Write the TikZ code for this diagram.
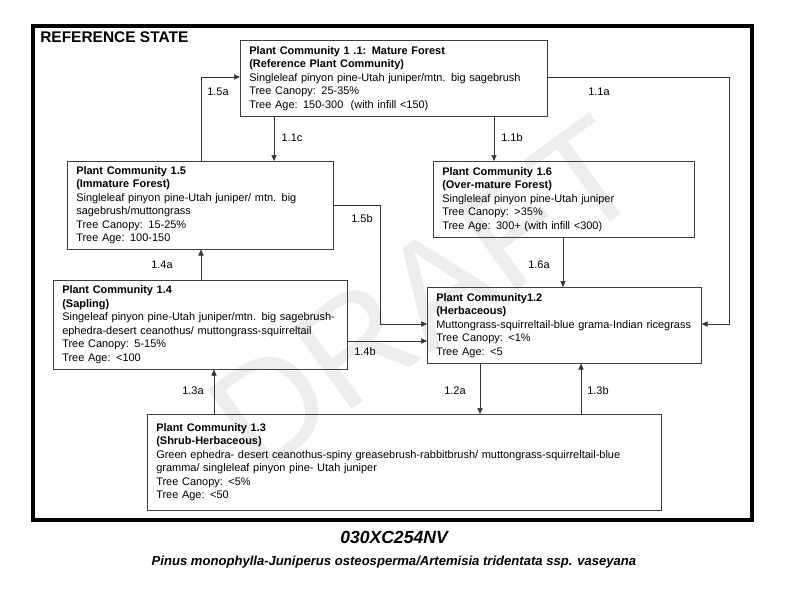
\documentclass[tikz,border=0pt]{standalone}
\usepackage{fontspec}
\setmainfont{Liberation Sans}
\usetikzlibrary{arrows.meta}

\begin{document}
\begin{tikzpicture}[x = 0.025cm, y = -0.025cm,
  pc/.style = {draw = black!75, anchor = north west, align = left,
    inner xsep = 0.225cm, inner ysep = 0pt, font = \fontsize{7.8}{9.6}\selectfont},
  tr/.style = {draw = black!80, -{Triangle[length = 1.5mm, width = 1.3mm]}},
  lab/.style = {font = \fontsize{7.8}{9.6}\selectfont, inner sep = 0pt}]
  \useasboundingbox (0, 0) rectangle (800, 600);

  \node[rotate = 36, text = black!7, font = \fontsize{104}{104}\selectfont] (draft) at (425, 295) {DRAFT};

  \draw[line width = 2.2pt] (33, 26) rectangle (752, 520);
  \node[anchor = north west, inner sep = 0pt, font = \bfseries\fontsize{11}{11}\selectfont] (refstate) at (40, 31) {REFERENCE STATE};

  \node[pc, text width = 7.225cm, minimum height = 1.9cm] (pc11) at (240, 40)
    {\textbf{Plant Community 1 .1: Mature Forest}\\
     \textbf{(Reference Plant Community)}\\
     Singleleaf pinyon pine-Utah juniper/mtn. big sagebrush\\
     Tree Canopy: 25-35\%\\
     Tree Age: 150-300~ (with infill <150)};
  \node[pc, text width = 6.2cm, minimum height = 2.2cm] (pc15) at (67, 161)
    {\textbf{Plant Community 1.5}\\
     \textbf{(Immature Forest)}\\
     Singleleaf pinyon pine-Utah juniper/ mtn. big\\
     sagebrush/muttongrass\\
     Tree Canopy: 15-25\%\\
     Tree Age: 100-150};
  \node[pc, text width = 6.075cm, minimum height = 1.9cm] (pc16) at (433, 161)
    {\textbf{Plant Community 1.6}\\
     \textbf{(Over-mature Forest)}\\
     Singleleaf pinyon pine-Utah juniper\\
     Tree Canopy: >35\%\\
     Tree Age: 300+ (with infill <300)};
  \node[pc, text width = 6.9cm, minimum height = 2.225cm] (pc14) at (53, 280)
    {\textbf{Plant Community 1.4}\\
     \textbf{(Sapling)}\\
     \mbox{Singeleaf pinyon pine-Utah juniper/mtn. big sagebrush-}\\
     ephedra-desert ceanothus/ muttongrass-squirreltail\\
     Tree Canopy: 5-15\%\\
     Tree Age: <100};
  \node[pc, text width = 6.4cm, minimum height = 1.9cm] (pc12) at (427, 287)
    {\textbf{Plant Community1.2}\\
     \textbf{(Herbaceous)}\\
     \mbox{Muttongrass-squirreltail-blue grama-Indian ricegrass}\\
     Tree Canopy: <1\%\\
     Tree Age: <5};
  \node[pc, text width = 12.4cm, minimum height = 2.4cm] (pc13) at (147, 414)
    {\textbf{Plant Community 1.3}\\
     \textbf{(Shrub-Herbaceous)}\\
     \mbox{Green ephedra- desert ceanothus-spiny greasebrush-rabbitbrush/ muttongrass-squirreltail-blue}\\
     gramma/ singleleaf pinyon pine- Utah juniper\\
     Tree Canopy: <5\%\\
     Tree Age: <50};

  \draw[tr] (pc15.north -| 201, 0) |- (pc11.west |- 0, 77);
  \draw[tr] (pc11.south -| 274, 0) -- (pc15.north -| 274, 0);
  \draw[tr] (pc11.south -| 494, 0) -- (pc16.north -| 494, 0);
  \draw[tr] (pc11.east |- 0, 77) -| (729, 324) -- (pc12.east |- 0, 324);
  \draw[tr] (pc15.east |- 0, 205) -| (380, 324) -- (pc12.west |- 0, 324);
  \draw[tr] (pc16.south -| 563, 0) -- (pc12.north -| 563, 0);
  \draw[tr] (pc14.north -| 201, 0) -- (pc15.south -| 201, 0);
  \draw[tr] (pc14.east |- 0, 341) -- (pc12.west |- 0, 341);
  \draw[tr] (pc13.north -| 214, 0) -- (pc14.south -| 214, 0);
  \draw[tr] (pc12.south -| 480, 0) -- (pc13.north -| 480, 0);
  \draw[tr] (pc13.north -| 581, 0) -- (pc12.south -| 581, 0);

  \node[lab] (l15a) at (218, 92) {1.5a};
  \node[lab] (l11c) at (292, 138) {1.1c};
  \node[lab] (l11b) at (512, 138) {1.1b};
  \node[lab] (l11a) at (599, 92) {1.1a};
  \node[lab] (l15b) at (362, 219) {1.5b};
  \node[lab] (l16a) at (539, 265) {1.6a};
  \node[lab] (l14a) at (162, 265) {1.4a};
  \node[lab] (l14b) at (365, 352) {1.4b};
  \node[lab] (l13a) at (193, 391) {1.3a};
  \node[lab] (l12a) at (455, 391) {1.2a};
  \node[lab] (l13b) at (598, 391) {1.3b};

  \node[font = \bfseries\itshape\fontsize{12.5}{12.5}\selectfont] (code) at (394, 537) {030XC254NV};
  \node[font = \bfseries\itshape\fontsize{9.3}{9.3}\selectfont] (species) at (394, 562)
    {Pinus monophylla-Juniperus osteosperma/Artemisia tridentata ssp. vaseyana};
\end{tikzpicture}
\end{document}
